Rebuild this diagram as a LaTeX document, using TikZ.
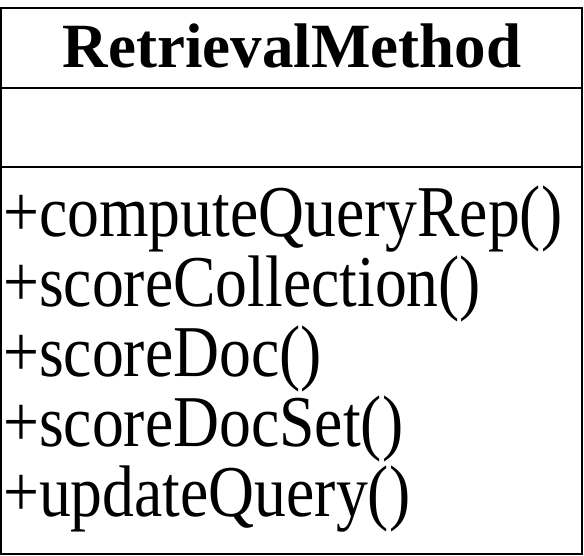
\documentclass[tikz,border=0pt]{standalone}
\usepackage{fontspec}
\setmainfont{Liberation Serif}
\newcommand{\opname}[1]{\scalebox{0.872}[1]{#1}}
\begin{document}
\begin{tikzpicture}[x=1pt,y=-1pt,
  frame/.style={draw=black,line width=1.6pt},
  title/.style={font=\fontsize{63}{63}\selectfont\bfseries,inner sep=0pt,anchor=base},
  op/.style={font=\fontsize{73}{73}\selectfont,inner sep=0pt,anchor=base west}]
\useasboundingbox (0,0) rectangle (584,555);
% class box with its three compartments
\draw[frame] (1,8) rectangle (582,554);
\draw[frame] (1,88) -- (582,88);
\draw[frame] (1,167) -- (582,167);
% class name
\node[title] (name) at (292,67) {RetrievalMethod};
% operations
\node[op] (m1) at (3,236) {\opname{+computeQueryRep()}};
\node[op] (m2) at (3,306) {\opname{+scoreCollection()}};
\node[op] (m3) at (3,376) {\opname{+scoreDoc()}};
\node[op] (m4) at (3,446) {\opname{+scoreDocSet()}};
\node[op] (m5) at (3,516) {\opname{+updateQuery()}};
\end{tikzpicture}
\end{document}
